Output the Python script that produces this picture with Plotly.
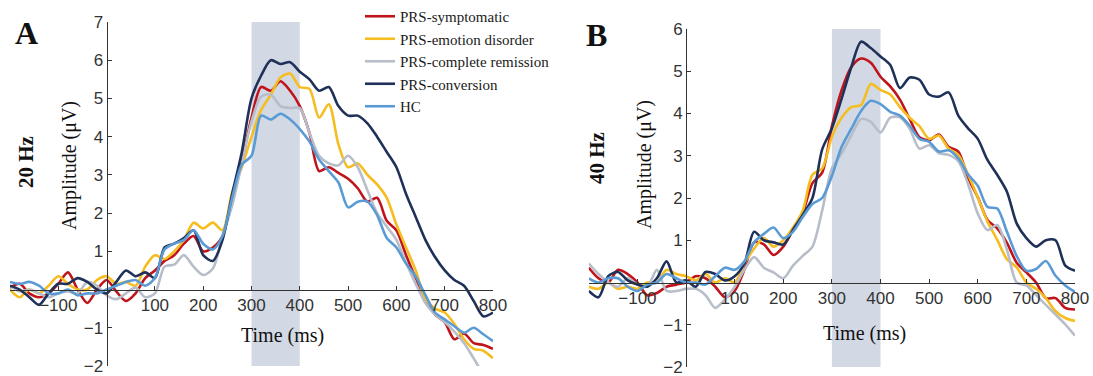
import plotly.graph_objects as go

t = list(range(-200, 801, 20))

groups = ["PRS-symptomatic", "PRS-emotion disorder", "PRS-complete remission", "PRS-conversion", "HC"]
colors = ["#C0141C", "#F5BD1F", "#B7BDC9", "#1F3158", "#5B9BD5"]

# 20 Hz (panel A)
a_symptomatic = [0.05, 0.15, -0.1, -0.2, -0.1, 0.15, 0.45, 0.0, -0.35, 0.0, 0.25, -0.05, -0.3, -0.1, 0.3, 0.5,
                 0.75, 0.9, 1.2, 1.4, 1.0, 1.1, 1.4, 2.4, 3.35, 4.5, 5.3, 5.2, 5.45, 5.2, 4.8, 4.1, 3.1, 3.2,
                 3.05, 2.9, 2.65, 2.3, 2.4, 1.8, 1.55, 0.9, 0.3, -0.25, -0.65, -0.85, -1.3, -1.15, -1.4, -1.45, -1.55]
a_emotion = [0.0, -0.2, 0.0, -0.1, 0.1, 0.35, 0.15, 0.0, 0.0, 0.25, 0.35, 0.15, 0.2, 0.1, 0.6, 0.9,
             0.8, 1.0, 1.3, 1.75, 1.6, 1.75, 1.55, 2.55, 3.2, 4.0, 4.7, 5.1, 5.55, 5.65, 5.3, 5.25, 4.5, 4.85,
             3.8, 3.2, 3.3, 3.0, 2.75, 2.4, 1.7, 1.1, 0.5, -0.25, -0.5, -0.6, -0.9, -1.3, -1.55, -1.6, -1.8]
a_remission = [0.1, -0.05, 0.0, -0.1, -0.2, -0.1, -0.05, -0.1, 0.2, 0.1, -0.15, -0.25, -0.1, 0.05, -0.2, -0.1,
               0.6, 0.65, 0.9, 0.6, 0.38, 0.55, 1.4, 2.2, 3.3, 4.4, 5.05, 5.1, 4.8, 4.75, 4.75, 4.1, 3.5, 3.3,
               3.25, 3.5, 3.2, 2.6, 2.0, 1.65, 1.3, 0.7, 0.15, -0.35, -0.65, -0.85, -1.1, -1.4, -1.8, -2.2, -2.4]
a_conversion = [0.1, 0.0, -0.2, -0.4, -0.1, 0.15, 0.15, 0.3, 0.2, 0.0, -0.1, 0.2, 0.5, 0.35, 0.45, 0.3,
                1.1, 1.2, 1.35, 1.55, 0.9, 0.75, 1.3, 2.5, 3.6, 5.0, 5.6, 6.0, 5.9, 5.95, 5.7, 5.5, 5.2, 5.3,
                4.8, 4.55, 4.55, 4.35, 4.0, 3.6, 3.2, 2.5, 1.9, 1.3, 0.85, 0.5, 0.25, 0.1, -0.3, -0.7, -0.6]
a_hc = [0.2, 0.15, 0.2, 0.1, -0.1, -0.1, 0.0, -0.15, -0.1, -0.1, 0.0, 0.1, 0.2, 0.25, 0.1, 0.3,
        1.05, 1.2, 1.3, 1.55, 1.2, 1.05, 1.4, 2.4, 3.27, 3.5, 4.55, 4.45, 4.6, 4.45, 4.2, 3.87, 3.4, 3.1,
        2.8, 2.15, 2.3, 2.3, 1.95, 1.35, 1.1, 0.68, 0.34, -0.14, -0.6, -0.78, -0.96, -1.13, -1.0, -1.17, -1.35]

# 40 Hz (panel B)
b_symptomatic = [0.35, 0.1, 0.0, 0.3, 0.2, 0.0, -0.3, -0.25, -0.1, -0.05, 0.0, 0.15, 0.1, -0.1, -0.35, -0.2,
                 0.3, 0.95, 0.9, 0.65, 0.85, 1.25, 1.65, 2.35, 2.6, 3.7, 4.55, 5.1, 5.3, 5.2, 4.87, 4.64, 4.33, 3.87,
                 3.44, 3.37, 3.5, 3.21, 3.1, 2.48, 2.02, 1.48, 1.28, 0.94, 0.47, 0.24, 0.0, -0.37, -0.37, -0.6, -0.64]
b_emotion = [-0.1, -0.15, 0.0, -0.15, -0.1, -0.15, 0.0, 0.0, 0.3, 0.2, 0.15, 0.05, 0.2, 0.0, 0.1, 0.0,
             0.45, 0.8, 1.05, 0.85, 1.0, 1.3, 1.7, 2.55, 2.7, 3.45, 3.9, 4.15, 4.2, 4.7, 4.56, 4.45, 4.15, 3.9,
             3.7, 3.4, 3.48, 3.17, 3.02, 2.56, 2.02, 1.44, 1.01, 0.55, 0.36, 0.0, -0.15, -0.37, -0.68, -0.84, -0.91]
b_remission = [0.45, 0.2, 0.0, -0.1, 0.1, -0.05, -0.1, 0.3, -0.2, -0.2, -0.15, -0.15, -0.3, -0.6, -0.4, -0.1,
               0.3, 0.6, 0.35, 0.24, 0.1, 0.4, 0.63, 0.85, 1.7, 2.7, 3.05, 3.48, 3.87, 3.8, 3.55, 3.9, 3.91, 3.64,
               3.17, 3.25, 3.06, 3.02, 2.87, 2.33, 1.63, 1.24, 1.36, 0.78, 0.0, -0.07, -0.3, -0.53, -0.76, -0.99, -1.26]
b_conversion = [-0.2, -0.35, 0.15, 0.25, 0.05, -0.05, -0.1, 0.1, 0.5, 0.0, 0.05, -0.1, 0.25, 0.2, 0.05, 0.15,
                0.45, 1.2, 1.0, 0.95, 0.9, 1.25, 1.6, 2.0, 3.15, 3.65, 4.35, 5.1, 5.7, 5.55, 5.35, 5.15, 4.6, 4.85,
                4.8, 4.45, 4.4, 4.5, 3.95, 3.65, 3.4, 2.9, 2.55, 2.15, 1.4, 1.05, 0.85, 1.0, 1.0, 0.4, 0.28]
b_hc = [0.1, 0.0, 0.1, 0.1, -0.1, -0.2, -0.05, 0.0, 0.2, 0.1, 0.0, 0.0, -0.05, 0.15, 0.35, 0.3,
        0.5, 0.95, 1.15, 1.3, 1.05, 1.2, 1.55, 1.86, 2.0, 2.52, 3.21, 3.64, 4.06, 4.3, 4.22, 4.04, 3.95, 3.71,
        3.4, 3.33, 3.1, 3.13, 2.94, 2.56, 2.29, 1.79, 1.75, 1.2, 0.63, 0.28, 0.32, 0.51, 0.16, -0.07, -0.22]

panel_a = [a_symptomatic, a_emotion, a_remission, a_conversion, a_hc]
panel_b = [b_symptomatic, b_emotion, b_remission, b_conversion, b_hc]

x_ticks = [-100, 100, 200, 300, 400, 500, 600, 700, 800]
a_yticks = [-2, -1, 1, 2, 3, 4, 5, 6, 7]
b_yticks = [-2, -1, 1, 2, 3, 4, 5, 6]

W, H = 1093, 376
def px(x):
    return x / W
def py(y):
    return 1 - y / H

# panel geometry (pixels)
A_TOP, A_BOT = 22, 366
B_TOP, B_BOT = 29, 367
a_zero = A_TOP + (A_BOT - A_TOP) * 7 / 9
b_zero = B_TOP + (B_BOT - B_TOP) * 6 / 8

fig = go.Figure()
for i, (name, col) in enumerate(zip(groups, colors)):
    fig.add_trace(go.Scatter(x=t, y=panel_a[i], mode="lines", name=name,
                             line=dict(color=col, width=2.6, shape="spline", smoothing=0.8),
                             xaxis="x", yaxis="y", showlegend=True))
for i, (name, col) in enumerate(zip(groups, colors)):
    fig.add_trace(go.Scatter(x=t, y=panel_b[i], mode="lines", name=name,
                             line=dict(color=col, width=2.6, shape="spline", smoothing=0.8),
                             xaxis="x2", yaxis="y2", showlegend=False))

tickfont = dict(family="Liberation Sans, Arial", size=17, color="#333333")
axcommon = dict(showgrid=False, zeroline=False, showline=True, linecolor="#333333", linewidth=1,
                ticks="inside", ticklen=4, tickcolor="#333333", tickfont=tickfont, automargin=False,
                ticklabeloverflow="allow")

fig.update_layout(
    template="none",
    width=W, height=H, margin=dict(l=0, r=0, t=0, b=0, pad=0, autoexpand=False),
    paper_bgcolor="white", plot_bgcolor="rgba(0,0,0,0)",
    xaxis=dict(domain=[px(10), px(493)], range=[-200, 800], anchor="free", position=py(a_zero),
               tickvals=x_ticks, **axcommon),
    yaxis=dict(domain=[py(A_BOT), py(A_TOP)], range=[-2, 7], anchor="free", position=px(106.5),
               tickvals=a_yticks, **axcommon),
    xaxis2=dict(domain=[px(588.8), px(1075)], range=[-200, 800], anchor="free", position=py(b_zero),
                tickvals=x_ticks, **axcommon),
    yaxis2=dict(domain=[py(B_BOT), py(B_TOP)], range=[-2, 6], anchor="free", position=px(686),
                tickvals=b_yticks, **axcommon),
    legend=dict(x=px(360), y=py(0), xanchor="left", yanchor="top", bgcolor="rgba(0,0,0,0)",
                font=dict(family="Liberation Serif, Times New Roman", size=15, color="#1a1a1a"),
                tracegroupgap=0, itemwidth=30),
    shapes=[
        dict(type="rect", xref="x", yref="y", x0=300, x1=400, y0=-2, y1=7,
             fillcolor="#D3D9E4", line=dict(width=0), layer="below"),
        dict(type="rect", xref="x2", yref="y2", x0=300, x1=400, y0=-2, y1=6,
             fillcolor="#D3D9E4", line=dict(width=0), layer="below"),
    ],
)

serif = "Liberation Serif, Times New Roman"
ann = [
    dict(text="<b>A</b>", x=px(26), y=py(33), size=32, angle=0),
    dict(text="<b>B</b>", x=px(596), y=py(35), size=32, angle=0),
    dict(text="<b>20 Hz</b>", x=px(26), y=py(162), size=21, angle=-90),
    dict(text="<b>40 Hz</b>", x=px(597), y=py(158), size=21, angle=-90),
    dict(text="Amplitude (μV)", x=px(70), y=py(166), size=20, angle=-90),
    dict(text="Amplitude (μV)", x=px(644), y=py(165), size=20, angle=-90),
    dict(text="Time (ms)", x=px(282), y=py(335), size=20, angle=0),
    dict(text="Time (ms)", x=px(864), y=py(333), size=20, angle=0),
]
for a in ann:
    fig.add_annotation(text=a["text"], x=a["x"], y=a["y"], xref="paper", yref="paper",
                       showarrow=False, textangle=a["angle"], xanchor="center", yanchor="middle",
                       font=dict(family=serif, size=a["size"], color="#111111"))

fig.write_html("out.html", config={"displayModeBar": False},
               post_script="document.body.style.margin='0';document.body.style.overflow='hidden';")
